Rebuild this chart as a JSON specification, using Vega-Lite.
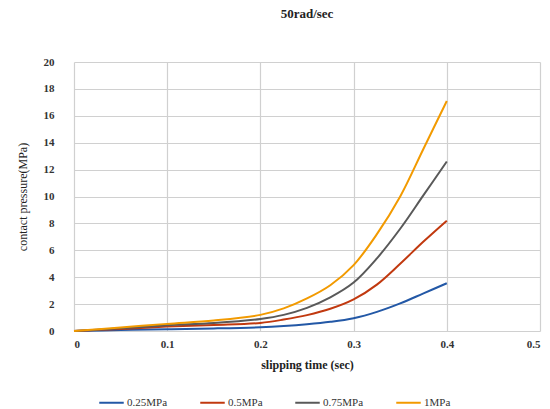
{
  "$schema": "https://vega.github.io/schema/vega-lite/v6.json",
  "width": 466,
  "height": 269,
  "autosize": {"type": "none"},
  "padding": {"left": 74, "top": 62, "right": 10, "bottom": 78},
  "background": "white",
  "title": {"text": "50rad/sec", "font": "Liberation Serif", "fontSize": 13, "fontWeight": "bold", "color": "#222", "anchor": "middle", "offset": 35},
  "data": {"values": [
    {"t": 0, "p": 0, "s": "0.25MPa"},
    {"t": 0.05, "p": 0.07, "s": "0.25MPa"},
    {"t": 0.1, "p": 0.13, "s": "0.25MPa"},
    {"t": 0.15, "p": 0.19, "s": "0.25MPa"},
    {"t": 0.2, "p": 0.28, "s": "0.25MPa"},
    {"t": 0.225, "p": 0.37, "s": "0.25MPa"},
    {"t": 0.25, "p": 0.5, "s": "0.25MPa"},
    {"t": 0.275, "p": 0.68, "s": "0.25MPa"},
    {"t": 0.3, "p": 0.95, "s": "0.25MPa"},
    {"t": 0.325, "p": 1.42, "s": "0.25MPa"},
    {"t": 0.35, "p": 2.05, "s": "0.25MPa"},
    {"t": 0.375, "p": 2.8, "s": "0.25MPa"},
    {"t": 0.4, "p": 3.55, "s": "0.25MPa"},
    {"t": 0, "p": 0, "s": "0.5MPa"},
    {"t": 0.05, "p": 0.15, "s": "0.5MPa"},
    {"t": 0.1, "p": 0.33, "s": "0.5MPa"},
    {"t": 0.15, "p": 0.45, "s": "0.5MPa"},
    {"t": 0.2, "p": 0.6, "s": "0.5MPa"},
    {"t": 0.225, "p": 0.85, "s": "0.5MPa"},
    {"t": 0.25, "p": 1.18, "s": "0.5MPa"},
    {"t": 0.275, "p": 1.65, "s": "0.5MPa"},
    {"t": 0.3, "p": 2.35, "s": "0.5MPa"},
    {"t": 0.325, "p": 3.45, "s": "0.5MPa"},
    {"t": 0.35, "p": 5.0, "s": "0.5MPa"},
    {"t": 0.375, "p": 6.65, "s": "0.5MPa"},
    {"t": 0.4, "p": 8.2, "s": "0.5MPa"},
    {"t": 0, "p": 0, "s": "0.75MPa"},
    {"t": 0.05, "p": 0.2, "s": "0.75MPa"},
    {"t": 0.1, "p": 0.43, "s": "0.75MPa"},
    {"t": 0.15, "p": 0.6, "s": "0.75MPa"},
    {"t": 0.2, "p": 0.9, "s": "0.75MPa"},
    {"t": 0.225, "p": 1.2, "s": "0.75MPa"},
    {"t": 0.25, "p": 1.72, "s": "0.75MPa"},
    {"t": 0.275, "p": 2.5, "s": "0.75MPa"},
    {"t": 0.3, "p": 3.6, "s": "0.75MPa"},
    {"t": 0.325, "p": 5.4, "s": "0.75MPa"},
    {"t": 0.35, "p": 7.6, "s": "0.75MPa"},
    {"t": 0.375, "p": 10.1, "s": "0.75MPa"},
    {"t": 0.4, "p": 12.6, "s": "0.75MPa"},
    {"t": 0, "p": 0, "s": "1MPa"},
    {"t": 0.05, "p": 0.26, "s": "1MPa"},
    {"t": 0.1, "p": 0.53, "s": "1MPa"},
    {"t": 0.15, "p": 0.78, "s": "1MPa"},
    {"t": 0.2, "p": 1.2, "s": "1MPa"},
    {"t": 0.225, "p": 1.68, "s": "1MPa"},
    {"t": 0.25, "p": 2.42, "s": "1MPa"},
    {"t": 0.275, "p": 3.4, "s": "1MPa"},
    {"t": 0.3, "p": 4.9, "s": "1MPa"},
    {"t": 0.325, "p": 7.2, "s": "1MPa"},
    {"t": 0.35, "p": 10.0, "s": "1MPa"},
    {"t": 0.375, "p": 13.55, "s": "1MPa"},
    {"t": 0.4, "p": 17.1, "s": "1MPa"}
  ]},
  "mark": {"type": "line", "interpolate": "catmull-rom", "strokeWidth": 2},
  "encoding": {
    "x": {"field": "t", "type": "quantitative", "scale": {"domain": [0, 0.5], "nice": false},
      "axis": {"title": "slipping time (sec)", "values": [0, 0.1, 0.2, 0.3, 0.4, 0.5], "labelExpr": "datum.value == 0 ? '0' : format(datum.value, '.1f')",
        "titleFont": "Liberation Serif", "titleFontSize": 12, "titleFontWeight": "bold", "titleColor": "#222", "titlePadding": 10,
        "labelFont": "Liberation Serif", "labelFontSize": 11, "labelFontWeight": "bold", "labelColor": "#333", "labelPadding": 7,
        "domain": false, "ticks": false, "gridColor": "#d0d0d0", "gridWidth": 1.2}},
    "y": {"field": "p", "type": "quantitative", "scale": {"domain": [0, 20], "nice": false},
      "axis": {"title": "contact pressure(MPa)", "values": [0, 2, 4, 6, 8, 10, 12, 14, 16, 18, 20],
        "titleFont": "Liberation Serif", "titleFontSize": 12, "titleFontWeight": "normal", "titleColor": "#222", "titlePadding": 14,
        "labelFont": "Liberation Serif", "labelFontSize": 11, "labelFontWeight": "bold", "labelColor": "#333", "labelPadding": 20,
        "domain": false, "ticks": false, "gridColor": "#d0d0d0", "gridWidth": 1.2}},
    "color": {"field": "s", "type": "nominal", "sort": ["0.25MPa", "0.5MPa", "0.75MPa", "1MPa"],
      "scale": {"domain": ["0.25MPa", "0.5MPa", "0.75MPa", "1MPa"], "range": ["#2358a6", "#c1390f", "#595959", "#f29a00"]},
      "legend": {"title": null, "orient": "none", "direction": "horizontal", "legendX": 24, "legendY": 327, "padding": 0,
        "symbolType": "stroke", "symbolSize": 600, "symbolStrokeWidth": 2, "labelFont": "Liberation Serif", "labelFontSize": 11, "labelColor": "#333", "columnPadding": 28, "labelOffset": 2}}
  },
  "config": {"view": {"stroke": null}}
}
